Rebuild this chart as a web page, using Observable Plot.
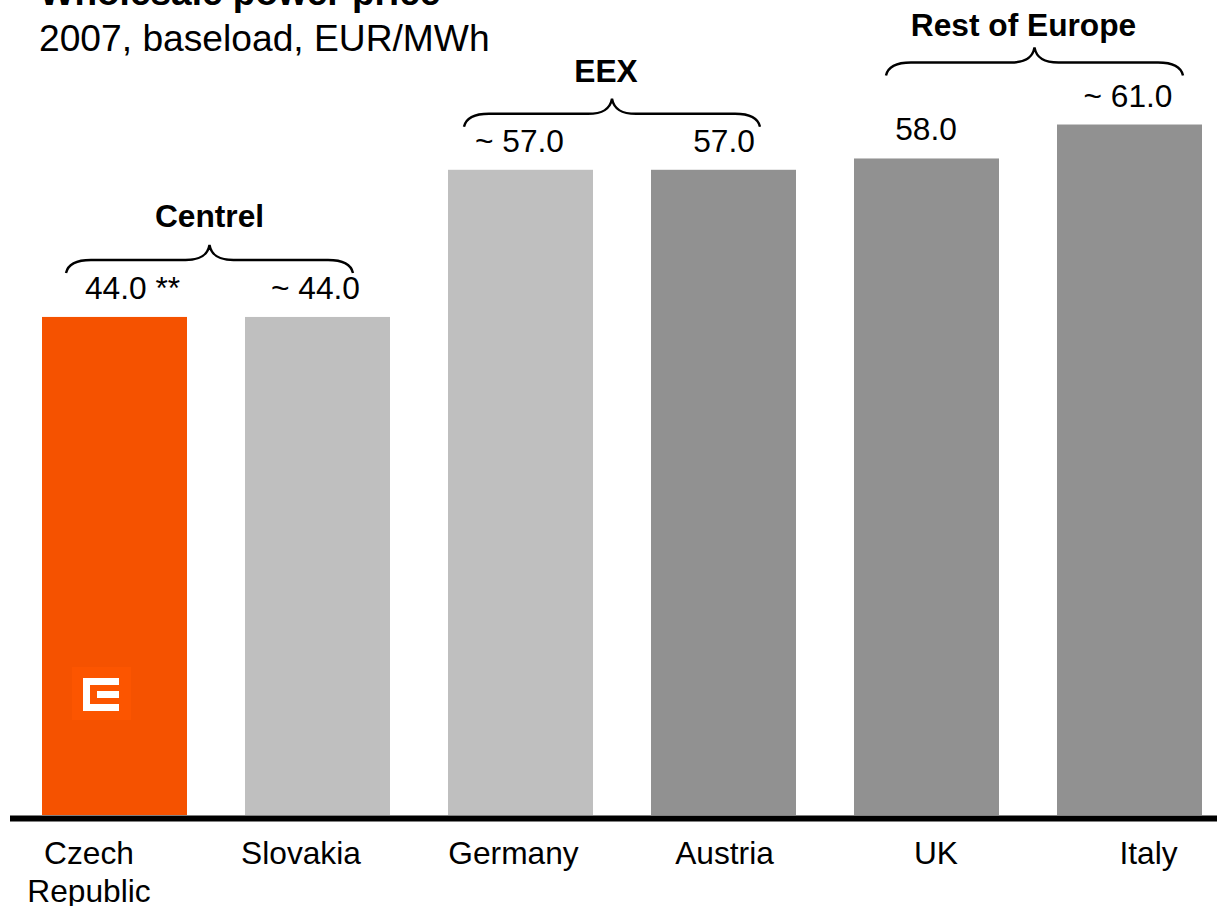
<!DOCTYPE html>
<html>
<head>
<meta charset="utf-8">
<style>
  html, body { margin: 0; padding: 0; background: #fff; overflow: hidden; }
  svg { display: block; }
</style>
<script src="https://cdn.jsdelivr.net/npm/d3@7"></script>
<script src="https://cdn.jsdelivr.net/npm/@observablehq/plot@0.6"></script>
</head>
<body>
<div id="chart"></div>
<script>
// Wholesale power prices, 2007 baseload, EUR/MWh
const countries = ["Czech\nRepublic", "Slovakia", "Germany", "Austria", "UK", "Italy"];
const prices = [44, 44, 57, 57, 58, 61];
const priceLabels = ["44.0 **", "~ 44.0", "~ 57.0", "57.0", "58.0", "~ 61.0"];
const barColors = ["#F55200", "#BFBFBF", "#BFBFBF", "#919191", "#919191", "#919191"];

const groupNames = ["Centrel", "EEX", "Rest of Europe"];
const groupFirst = ["Czech\nRepublic", "Germany", "UK"];
const groupLast = ["Slovakia", "Austria", "Italy"];

const rows = countries.map((country, i) => ({country, price: prices[i], label: priceLabels[i], color: barColors[i]}));

// Horizontal nudges that keep the labels clear of the bar centres
const valueDx = [17.5, -2.5, -1.5, 0, -1, -2];
const nameDx = [-26, -17, -7.5, 0.5, 9, 18.5];
const FONT = "Liberation Sans, Arial, sans-serif";
const SIZE = 31.7;

// Layout of each curly bracket, relative to its bars
const braceLayout = [
  {left: 24, right: -37, rise: 57, labelShift: 0, labelGap: 33},
  {left: 16, right: -36, rise: 56, labelShift: -6, labelGap: 32},
  {left: 32, right: -19, rise: 62, labelShift: -11, labelGap: 27}
];

function braces(index, {x, y}) {
  const g = d3.create("svg:g").attr("fill", "none").attr("stroke", "#000").attr("stroke-width", 2.4);
  const bw = x.bandwidth();
  groupNames.forEach((name, i) => {
    const first = rows.find(d => d.country === groupFirst[i]);
    const last = rows.find(d => d.country === groupLast[i]);
    const o = braceLayout[i];
    const x0 = x(first.country) + o.left;
    const x1 = x(last.country) + bw + o.right;
    const level = y(Math.max(first.price, last.price)) - o.rise;
    const mid = (x0 + x1) / 2;
    g.append("path").attr("d",
      `M${x0},${level + 13}C${x0 + 2},${level + 4} ${x0 + 10},${level} ${x0 + 25},${level}` +
      `L${mid - 24},${level}C${mid - 10},${level} ${mid - 2},${level - 4} ${mid},${level - 15}` +
      `C${mid + 2},${level - 4} ${mid + 10},${level} ${mid + 24},${level}` +
      `L${x1 - 25},${level}C${x1 - 10},${level} ${x1 - 2},${level + 4} ${x1},${level + 13}`);
    g.append("text")
      .attr("x", mid + o.labelShift).attr("y", level - o.labelGap)
      .attr("text-anchor", "middle").attr("font-weight", "bold")
      .attr("font-size", SIZE).attr("fill", "#000").attr("stroke", "none")
      .text(name);
  });
  return g.node();
}

// Company emblem sitting on the first bar
function emblem(index, {x, y}) {
  const x0 = x(countries[0]) + 30;
  const y0 = y(0) - 148;
  const g = d3.create("svg:g").attr("transform", `translate(${x0},${y0})`);
  g.append("rect").attr("width", 59).attr("height", 53).attr("fill", "#FC5500");
  g.append("path").attr("fill", "#fff").attr("fill-rule", "evenodd")
    .attr("d", "M11,11H47V18H18V37H47V44H11Z M25,24H47V31H25Z");
  return g.node();
}

const plot = Plot.plot({
  width: 1217,
  height: 906,
  marginTop: 0, marginRight: 0, marginBottom: 0, marginLeft: 0,
  style: {fontFamily: FONT, background: "#fff", color: "#000", overflow: "hidden"},
  x: {type: "band", domain: countries, range: [40.6, 1203.4], paddingInner: 0.284, paddingOuter: 0, axis: null},
  y: {type: "linear", domain: [0, 72], range: [815, 0], axis: null},
  marks: [
    Plot.barY(rows, {x: "country", y: "price", fill: "color"}),
    Plot.ruleY([0], {stroke: "#000", strokeWidth: 6, dy: 3, insetLeft: 10}),
    emblem,
    ...rows.map((d, i) => Plot.text([d], {
      x: "country", y: "price", text: "label", dx: valueDx[i], dy: -18.5,
      lineAnchor: "bottom", fontSize: SIZE, fill: "#000"
    })),
    ...rows.map((d, i) => Plot.text([d], {
      x: "country", y: 0, text: "country", dx: nameDx[i], dy: 21,
      lineAnchor: "top", lineHeight: 1.2, fontSize: SIZE, fill: "#000"
    })),
    braces,
    Plot.text(["Wholesale power price"], {
      frameAnchor: "top-left", dx: 39, dy: -22, textAnchor: "start", lineAnchor: "top",
      fontSize: 37, fontWeight: "bold", fill: "#000"
    }),
    Plot.text(["2007, baseload, EUR/MWh"], {
      frameAnchor: "top-left", dx: 38.5, dy: 24, textAnchor: "start", lineAnchor: "top",
      fontSize: 37.2, fill: "#000"
    })
  ]
});
document.getElementById("chart").append(plot);
</script>
</body>
</html>
